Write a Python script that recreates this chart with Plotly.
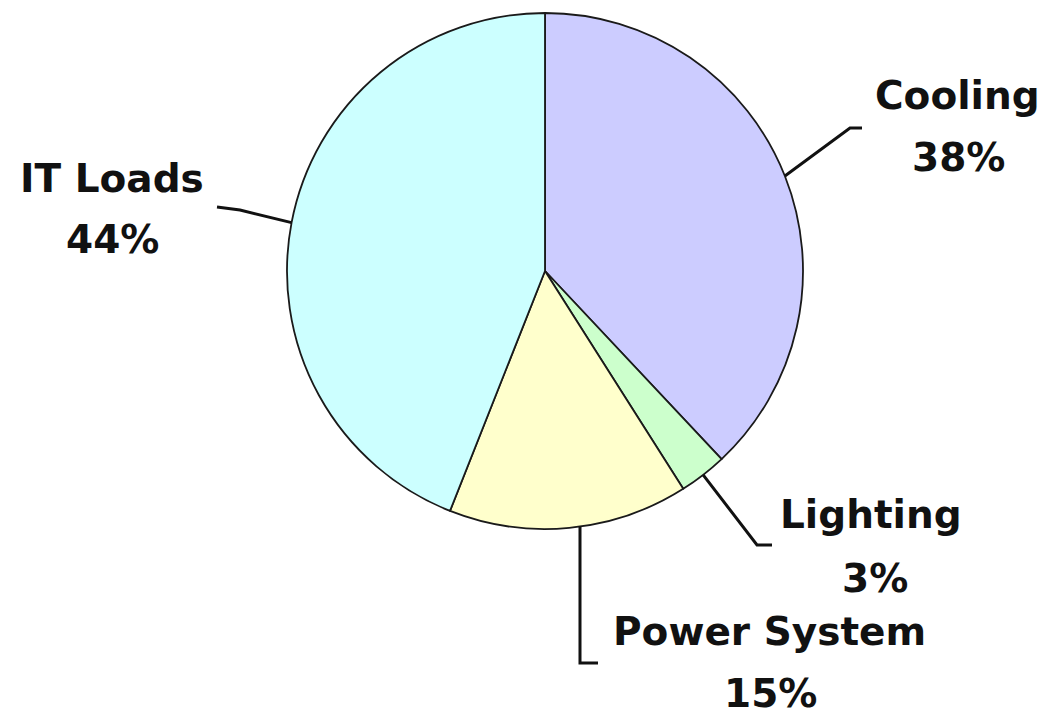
import math
import plotly.graph_objects as go

# ---- data ----
labels = ["Cooling", "Lighting", "Power System", "IT Loads"]
values = [38, 3, 15, 44]
pct_text = ["38%", "3%", "15%", "44%"]
colors = ["#CCCCFF", "#CCFFCC", "#FFFFCC", "#CCFFFF"]

# ---- layout constants (pixels) ----
W, H = 1048, 716
CX, CY, R = 545, 271, 258

# label name centers, percent centers, and leader-line bend/end points (px)
name_pos = {"Cooling": (957, 96), "Lighting": (871, 514), "Power System": (769, 631), "IT Loads": (112, 178)}
pct_pos = {"Cooling": (958, 158), "Lighting": (875, 578), "Power System": (770, 693), "IT Loads": (112, 240)}
leader_tail = {
    "Cooling": [(850, 128), (862, 128)],
    "Lighting": [(757, 545), (772, 545)],
    "Power System": [(580, 663), (598, 663)],
    "IT Loads": [(240, 210), (217, 207)],
}

def px(x, y):
    return x / W, 1 - y / H

fig = go.Figure(go.Pie(
    labels=labels, values=values, sort=False, direction="clockwise", rotation=0,
    marker=dict(colors=colors, line=dict(color="#1a1a1a", width=1.8)),
    textinfo="none", hoverinfo="none", showlegend=False,
    domain=dict(x=[(CX - R) / W, (CX + R) / W], y=[(H - CY - R) / H, (H - CY + R) / H]),
))

font = dict(family="DejaVu Sans", size=39, color="#111111")
annotations = []
shapes = []
total = sum(values)
cum = 0
for lab, v, pt in zip(labels, values, pct_text):
    mid = (cum + v / 2) / total * 2 * math.pi
    cum += v
    # point on the pie edge at the slice's mid angle (clockwise from top)
    sx = CX + R * math.sin(mid)
    sy = CY - R * math.cos(mid)
    if lab == "Power System":
        sx = leader_tail[lab][0][0]
        sy = CY + math.sqrt(R * R - (sx - CX) ** 2)
    pts = [(sx, sy)] + leader_tail[lab]
    path = "M " + " L ".join("%f,%f" % px(x, y) for x, y in pts)
    shapes.append(dict(type="path", xref="paper", yref="paper", path=path,
                       line=dict(color="#111111", width=3)))
    nx, ny = px(*name_pos[lab])
    annotations.append(dict(text="<b>%s</b>" % lab, x=nx, y=ny, xref="paper", yref="paper",
                            xanchor="center", yanchor="middle", showarrow=False, font=font))
    qx, qy = px(*pct_pos[lab])
    annotations.append(dict(text="<b>%s</b>" % pt, x=qx, y=qy, xref="paper", yref="paper",
                            xanchor="center", yanchor="middle", showarrow=False, font=font))

fig.update_layout(
    width=W, height=H, margin=dict(l=0, r=0, t=0, b=0),
    paper_bgcolor="white", plot_bgcolor="white",
    annotations=annotations, shapes=shapes,
)
fig.write_html("out.html")
